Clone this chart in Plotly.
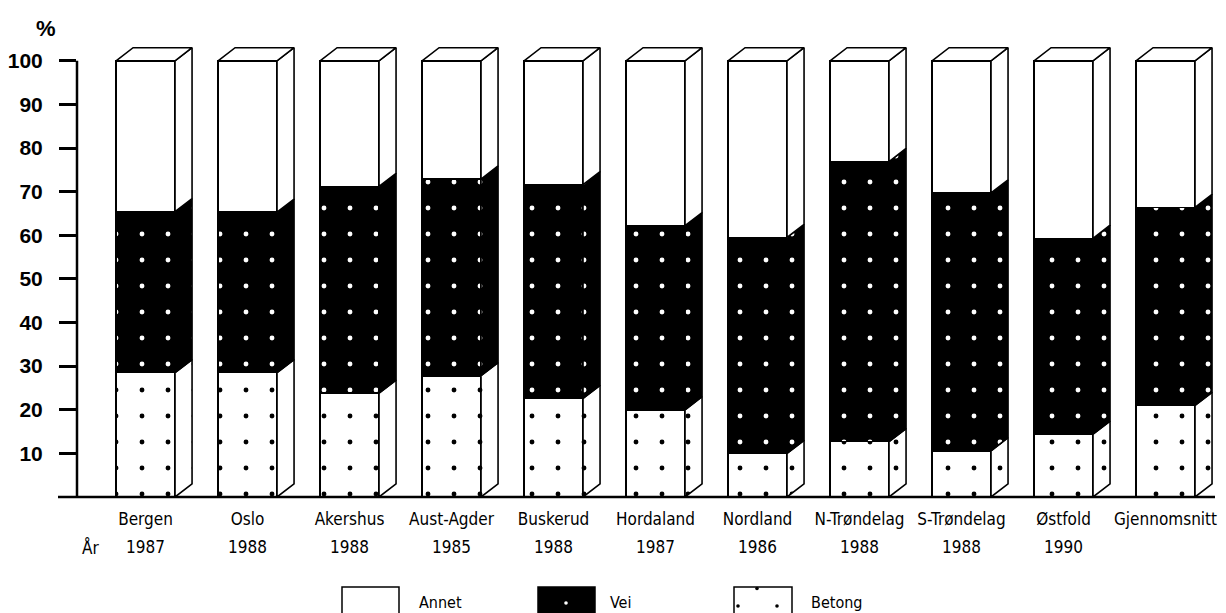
import plotly.graph_objects as go

# Share of material by region (percent), stacked bottom to top: Betong, Vei, Annet
regions = ["Bergen", "Oslo", "Akershus", "Aust-Agder", "Buskerud", "Hordaland",
           "Nordland", "N-Trøndelag", "S-Trøndelag", "Østfold", "Gjennomsnitt"]
years = ["1987", "1988", "1988", "1985", "1988", "1987",
         "1986", "1988", "1988", "1990", ""]
betong = [28.5, 28.5, 23.8, 27.8, 22.6, 20.0, 10.0, 12.7, 10.6, 14.4, 21.0]
vei = [36.9, 36.8, 47.4, 45.1, 49.0, 42.2, 49.5, 64.2, 59.1, 44.9, 45.4]
annet = [34.6, 34.7, 28.8, 27.1, 28.4, 37.8, 40.5, 23.1, 30.3, 40.7, 33.6]
y_ticks = [10, 20, 30, 40, 50, 60, 70, 80, 90, 100]

LABEL_FONT = "DejaVu Sans Condensed, DejaVu Sans, sans-serif"
BOLD_FONT = "Liberation Sans, Arial, sans-serif"

W = 0.578      # front face width (category units)
DX = 0.167     # depth offset, x
DY = 3.0       # depth offset, y (percent units)
OUTLINE = dict(color="black", width=1.6)

dots_on_black = dict(shape=".", bgcolor="black", fgcolor="white", fgopacity=1,
                     size=26, solidity=0.028)
dots_on_white = dict(shape=".", bgcolor="white", fgcolor="black", fgopacity=1,
                     size=26, solidity=0.028)

xs = list(range(len(regions)))
fig = go.Figure()

# Front faces
fig.add_trace(go.Bar(x=xs, y=betong, width=W, name="Betong",
                     marker=dict(color="white", line=OUTLINE, pattern=dots_on_white)))
fig.add_trace(go.Bar(x=xs, y=vei, width=W, name="Vei",
                     marker=dict(color="black", line=OUTLINE, pattern=dots_on_black)))
fig.add_trace(go.Bar(x=xs, y=annet, width=W, name="Annet",
                     marker=dict(color="white", line=OUTLINE)))


def side_faces(lower, upper):
    px, py = [], []
    for i, (b, t) in enumerate(zip(lower, upper)):
        xr = i + W / 2
        px += [xr, xr + DX, xr + DX, xr, xr, None]
        py += [b, b + DY, t + DY, t, b, None]
    return px, py


lvl1 = betong
lvl2 = [b + v for b, v in zip(betong, vei)]
lvl3 = [b + v + a for b, v, a in zip(betong, vei, annet)]
zero = [0] * len(regions)

for lo, hi, fc, pat in [(zero, lvl1, "white", dots_on_white),
                        (lvl1, lvl2, "black", dots_on_black),
                        (lvl2, lvl3, "white", None)]:
    px, py = side_faces(lo, hi)
    kw = dict(fillpattern=pat) if pat else {}
    fig.add_trace(go.Scatter(x=px, y=py, mode="lines", fill="toself", fillcolor=fc,
                             line=OUTLINE, hoverinfo="skip", connectgaps=False, **kw))

# Top faces
tx, ty = [], []
for i, t in enumerate(lvl3):
    xl, xr = i - W / 2, i + W / 2
    tx += [xl, xl + DX, xr + DX, xr, xl, None]
    ty += [t, t + DY, t + DY, t, t, None]
fig.add_trace(go.Scatter(x=tx, y=ty, mode="lines", fill="toself", fillcolor="white",
                         line=OUTLINE, hoverinfo="skip", connectgaps=False))

# Plot area geometry (pixels)
L, R, T, B = 77, 11, 39, 116
FW, FH = 1226, 613
PW, PH = FW - L - R, FH - T - B


def px2paper(x, y):
    return (x - L) / PW, (FH - B - y) / PH


shapes = []
# y axis line (0-100) and baseline
shapes.append(dict(type="line", xref="paper", yref="y", x0=0, x1=0, y0=0, y1=100,
                   line=dict(color="black", width=2.5)))
bx0, _ = px2paper(58, 0)
shapes.append(dict(type="line", xref="paper", yref="paper", x0=bx0, x1=1, y0=0, y1=0,
                   line=dict(color="black", width=2.5)))


# Legend swatches
def rect(x0, x1, y0, y1, fill):
    a = px2paper(x0, y1)
    b = px2paper(x1, y0)
    return dict(type="rect", xref="paper", yref="paper", x0=a[0], x1=b[0], y0=a[1], y1=b[1],
                fillcolor=fill, line=dict(color="black", width=1.5))


def dot(cx, cy, color, r=1.8):
    a = px2paper(cx - r, cy + r)
    b = px2paper(cx + r, cy - r)
    return dict(type="circle", xref="paper", yref="paper", x0=a[0], x1=b[0], y0=a[1], y1=b[1],
                fillcolor=color, line=dict(width=0))


shapes.append(rect(342, 399, 587, 616, "white"))
shapes.append(rect(538, 595, 587, 616, "black"))
shapes.append(dot(566, 603, "white"))
shapes.append(rect(734, 792, 587, 616, "white"))
shapes.append(dot(738, 606, "black"))
shapes.append(dot(777, 606, "black"))
shapes.append(dot(757, 588.5, "black"))

annotations = []
for txt, x in [("Annet", 417), ("Vei", 608), ("Betong", 809)]:
    ax, ay = px2paper(x, 602)
    annotations.append(dict(text=txt, x=ax, y=ay, xref="paper", yref="paper",
                            xanchor="left", yanchor="middle", showarrow=False,
                            font=dict(family=LABEL_FONT, size=16, color="black")))

# Year row under the region names
_, yr_y = px2paper(0, 547)
ax, _ = px2paper(90, 0)
annotations.append(dict(text="År", x=ax, y=yr_y, xref="paper", yref="paper",
                        xanchor="center", yanchor="middle", showarrow=False,
                        font=dict(family=LABEL_FONT, size=17, color="black")))
for i, yr in enumerate(years):
    if yr:
        annotations.append(dict(text=yr, x=i, y=yr_y, xref="x", yref="paper",
                                xanchor="center", yanchor="middle", showarrow=False,
                                font=dict(family=LABEL_FONT, size=17, color="black")))

ax, ay = px2paper(46, 28)
annotations.append(dict(text="%", x=ax, y=ay, xref="paper", yref="paper",
                        xanchor="center", yanchor="middle", showarrow=False,
                        font=dict(family=BOLD_FONT, size=22, color="black", weight="bold")))

fig.update_layout(
    width=FW, height=FH,
    margin=dict(l=L, r=R, t=T, b=B),
    paper_bgcolor="white", plot_bgcolor="white",
    barmode="stack", showlegend=False,
    shapes=shapes, annotations=annotations,
    xaxis=dict(range=[-0.672, 10.485], tickvals=xs, ticktext=regions,
               showgrid=False, zeroline=False, showline=False, ticks="",
               ticklabelstandoff=10, tickangle=0, automargin=False,
               tickfont=dict(family=LABEL_FONT, size=17, color="black")),
    yaxis=dict(range=[0, 105], tickvals=y_ticks, showgrid=False, zeroline=False,
               showline=False, ticks="outside", ticklen=17, tickwidth=3,
               tickcolor="black", ticklabelstandoff=12, automargin=False,
               tickfont=dict(family=BOLD_FONT, size=21, color="black", weight="bold")),
)

fig.write_html("out.html")
